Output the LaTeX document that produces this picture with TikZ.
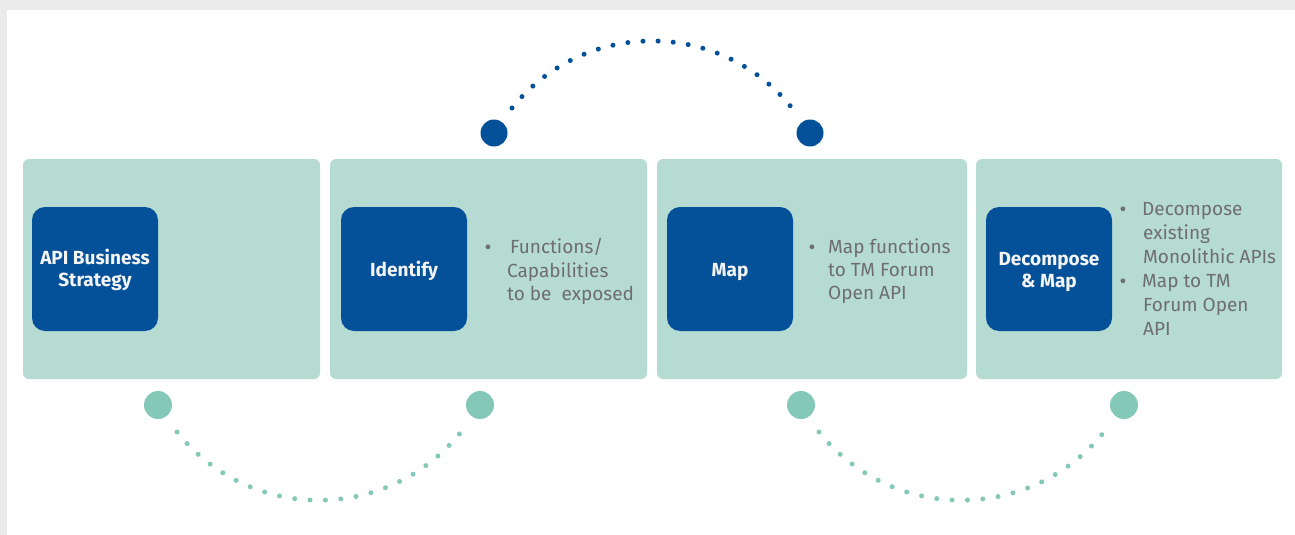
\documentclass[tikz,border=0pt]{standalone}
\usepackage{fontspec}
\setmainfont{Fira Sans}
\definecolor{bggray}{HTML}{EBEBEB}
\definecolor{panelc}{HTML}{B6DBD3}
\definecolor{darkblue}{HTML}{04519A}
\definecolor{tealc}{HTML}{84C9B8}
\definecolor{textgray}{HTML}{6E6E6E}
\definecolor{labelw}{HTML}{F4F4F4}
\tikzset{
  panel/.style={fill=panelc, draw=none, rounded corners=6pt},
  stepbox/.style={fill=darkblue, draw=none, rounded corners=13pt},
  boxlabel/.style={anchor=base, inner sep=0pt, text=labelw, font=\fontsize{19}{22}\selectfont\bfseries},
  bodytext/.style={anchor=base west, inner sep=0pt, text=textgray, font=\fontsize{19}{24}\selectfont},
  bulletmark/.style={anchor=base, inner sep=0pt, text=textgray, font=\fontsize{21}{21}\selectfont},
  bluedot/.style={circle, fill=darkblue, draw=none, minimum size=27pt, inner sep=0pt},
  tealdot/.style={circle, fill=tealc, draw=none, minimum size=28pt, inner sep=0pt},
  bluearc/.style={draw=darkblue, line width=5pt, line cap=round, dash pattern=on 0pt off 15.15pt},
  tealarc/.style={draw=tealc, line width=5pt, line cap=round, dash pattern=on 0pt off 15.4pt},
}
\begin{document}
\begin{tikzpicture}[x=1pt, y=-1pt]
\useasboundingbox (0,0) rectangle (1295,535);
\fill[bggray] (0,0) rectangle (1295,535);
\fill[white] (7,10) rectangle (1295,535);

% panels
\draw[panel] (23,159) rectangle (320,379);
\draw[panel] (330,159) rectangle (647,379);
\draw[panel] (657,159) rectangle (967,379);
\draw[panel] (976,159) rectangle (1282,379);

% dark boxes
\node[stepbox, minimum width=126pt, minimum height=124pt] (b1) at (95,269) {};
\node[stepbox, minimum width=126pt, minimum height=124pt] (b2) at (404,269) {};
\node[stepbox, minimum width=126pt, minimum height=124pt] (b3) at (730,269) {};
\node[stepbox, minimum width=126pt, minimum height=124pt] (b4) at (1049,269) {};

% box labels
\node[boxlabel] (l1a) at (95,264.3) {API Business};
\node[boxlabel] (l1b) at (95,286) {Strategy};
\node[boxlabel] (l2) at (404,276) {Identify};
\node[boxlabel] (l3) at (730,276) {Map};
\node[boxlabel] (l4a) at (1049,265) {Decompose};
\node[boxlabel] (l4b) at (1049,287) {\& Map};

% panel 2 text
\node[bulletmark] (u2) at (488,254) {•};
\node[bodytext] (t2a) at (510,253) {Functions/};
\node[bodytext] (t2b) at (507,277) {Capabilities};
\node[bodytext] (t2c) at (507,300) {to be\ \ exposed};

% panel 3 text
\node[bulletmark] (u3) at (812,254) {•};
\node[bodytext] (t3a) at (828,253) {Map functions};
\node[bodytext] (t3b) at (828,276) {to TM Forum};
\node[bodytext] (t3c) at (828,299.5) {Open API};

% panel 4 text
\node[bulletmark] (u4a) at (1123,216) {•};
\node[bodytext] (t4a) at (1142,215) {Decompose};
\node[bodytext] (t4b) at (1143,239) {existing};
\node[bodytext] (t4c) at (1143,263.5) {Monolithic APIs};
\node[bulletmark] (u4b) at (1123,288.7) {•};
\node[bodytext] (t4d) at (1142,287.7) {Map to TM};
\node[bodytext] (t4e) at (1143,311.5) {Forum Open};
\node[bodytext] (t4f) at (1143,335) {API};

% top circles and arc
\node[bluedot] (c1) at (494,133) {};
\node[bluedot] (c2) at (810,133) {};
\coordinate (s1) at (512,108);
\coordinate (e1) at (792,108);
\draw[bluearc] (s1) .. controls +(71.9,-89.4) and +(-71.9,-89.4) .. (e1);

% bottom circles and arcs
\node[tealdot] (d1) at (158,405) {};
\node[tealdot] (d2) at (480,405) {};
\node[tealdot] (d3) at (801,405) {};
\node[tealdot] (d4) at (1124,405) {};
\coordinate (s2) at (177,432);
\coordinate (e2) at (461,432);
\coordinate (s3) at (819,432);
\coordinate (e3) at (1104,432);
\draw[tealarc] (s2) .. controls +(73,91) and +(-73,91) .. (e2);
\draw[tealarc] (s3) .. controls +(73,91) and +(-73,91) .. (e3);
\end{tikzpicture}
\end{document}
